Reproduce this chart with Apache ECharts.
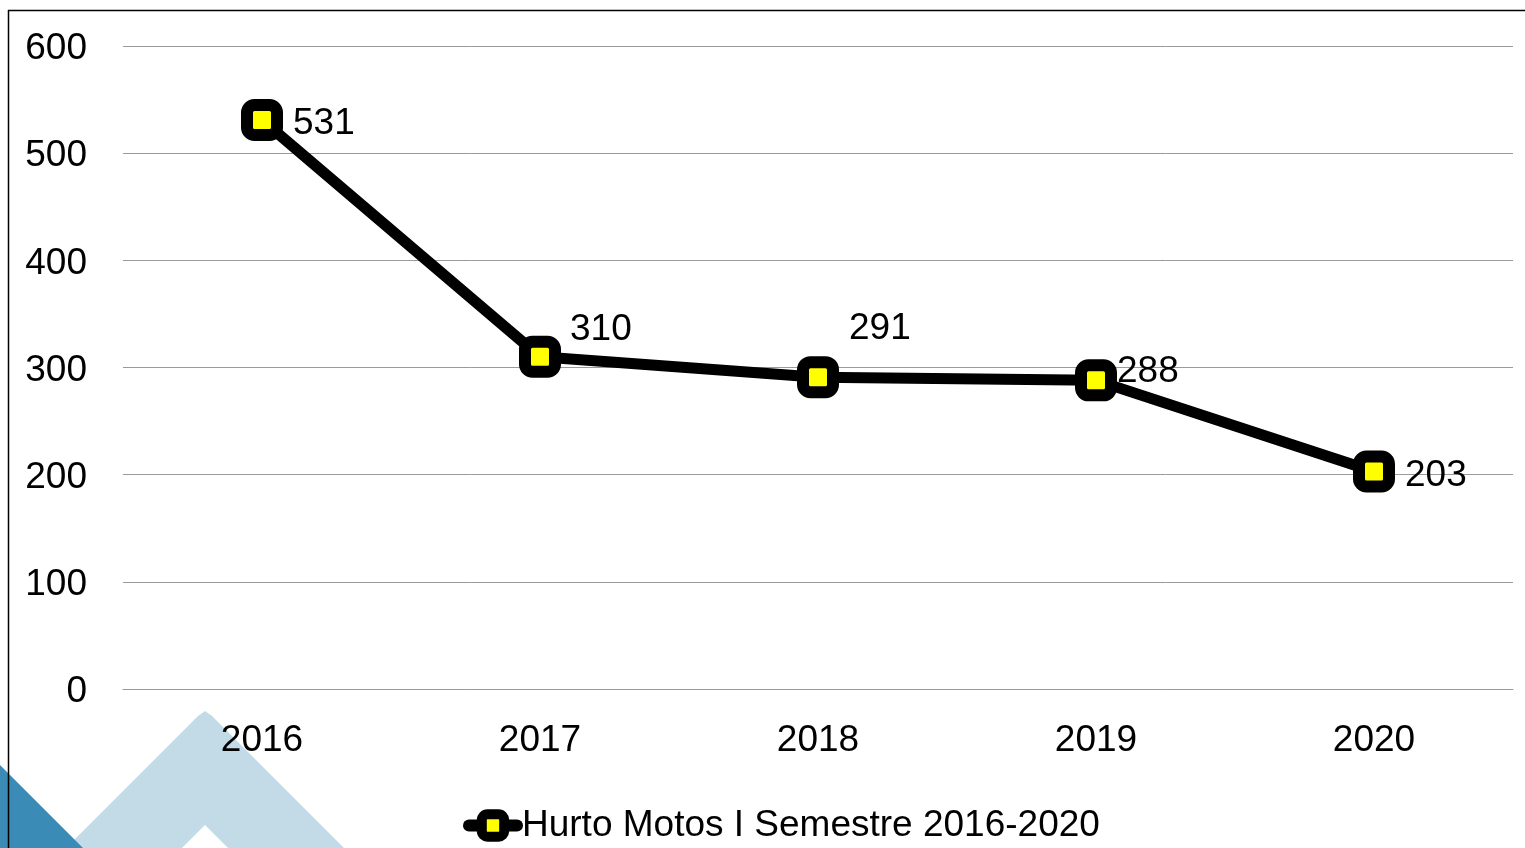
<!DOCTYPE html>
<html>
<head>
<meta charset="utf-8">
<script src="https://cdn.jsdelivr.net/npm/echarts@6/dist/echarts.min.js"></script>
<style>
  html, body { margin: 0; padding: 0; background: #fff; }
  #chart { width: 1525px; height: 848px; }
</style>
</head>
<body>
<div id="chart"></div>
<script>
// data
const years = ['2016', '2017', '2018', '2019', '2020'];
const hurtoMotos = [531, 310, 291, 288, 203];
const seriesName = 'Hurto Motos I Semestre 2016-2020';
const yTicks = [0, 100, 200, 300, 400, 500, 600];

// label nudges so the numbers sit where the original puts them
const labelOffsets = [[0, 4], [-1, -27], [0, -48], [-10, -9], [0, 4]];

const FONT = '"Liberation Sans", Arial, sans-serif';
const FS = 37;
const chart = echarts.init(document.getElementById('chart'));

chart.setOption({
  backgroundColor: '#fff',
  animation: false,
  textStyle: { fontFamily: FONT, color: '#000' },
  graphic: [
    // slide decoration, bottom left
    {
      type: 'polygon', z: -10, silent: true,
      shape: { points: [[66, 848], [198, 716], [205, 711], [212, 716], [344, 848], [228, 848], [205, 825], [182, 848]] },
      style: { fill: '#c2dbe6' }
    },
    {
      type: 'polygon', z: -9, silent: true,
      shape: { points: [[0, 765], [83, 848], [0, 848]] },
      style: { fill: '#3a8bb5' }
    },
    // frame
    { type: 'line', z: 10, silent: true, shape: { x1: 8.5, y1: 10, x2: 8.5, y2: 848 }, style: { stroke: '#000', lineWidth: 1.5 } },
    { type: 'line', z: 10, silent: true, shape: { x1: 8, y1: 10.5, x2: 1525, y2: 10.5 }, style: { stroke: '#000', lineWidth: 1.5 } }
  ],
  grid: { left: 123, right: 12, top: 46, bottom: 159, containLabel: false },
  legend: {
    data: [seriesName],
    left: 458,
    top: 802,
    itemWidth: 48,
    itemHeight: 28,
    itemGap: 0,
    lineStyle: { width: 12, color: '#000', cap: 'round' },
    itemStyle: { color: '#ffff00', borderColor: '#000', borderWidth: 10 },
    textStyle: { fontSize: FS, fontFamily: FONT, color: '#000' }
  },
  xAxis: {
    type: 'category',
    data: years,
    boundaryGap: true,
    axisLine: { show: true, lineStyle: { color: '#9a9a9a', width: 1 } },
    axisTick: { show: false },
    axisLabel: { fontSize: FS, color: '#000', margin: 33, fontFamily: FONT }
  },
  yAxis: {
    type: 'value',
    min: yTicks[0],
    max: yTicks[yTicks.length - 1],
    interval: yTicks[1] - yTicks[0],
    axisLine: { show: false },
    axisTick: { show: false },
    axisLabel: {
      fontSize: FS, color: '#000', margin: 36, fontFamily: FONT,
      verticalAlign: 'top', lineHeight: 6
    },
    splitLine: { lineStyle: { color: '#9a9a9a', width: 1 } }
  },
  series: [
    {
      name: seriesName,
      type: 'line',
      data: hurtoMotos.map((v, i) => ({
        value: v,
        label: { offset: labelOffsets[i] }
      })),
      symbol: 'roundRect',
      symbolSize: 30,
      lineStyle: { color: '#000', width: 11 },
      itemStyle: { color: '#ffff00', borderColor: '#000', borderWidth: 12 },
      label: {
        show: true,
        position: 'right',
        distance: 10,
        fontSize: FS,
        color: '#000',
        fontFamily: FONT
      }
    }
  ]
});
</script>
</body>
</html>
